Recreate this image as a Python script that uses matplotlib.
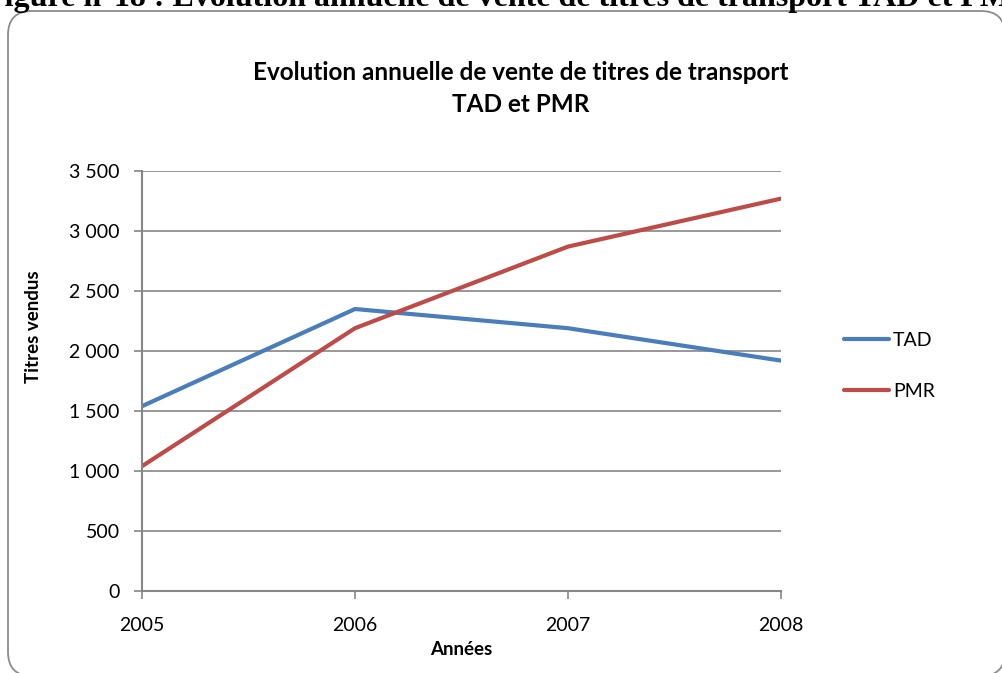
import matplotlib
matplotlib.use("Agg")
import matplotlib.pyplot as plt
from matplotlib.patches import FancyBboxPatch
from matplotlib.transforms import IdentityTransform
from matplotlib.ticker import FuncFormatter

years = [2005, 2006, 2007, 2008]
tad = [1540, 2350, 2190, 1920]
pmr = [1040, 2190, 2870, 3270]
yticks = [0, 500, 1000, 1500, 2000, 2500, 3000, 3500]

plt.rcParams['font.family'] = ['Lato', 'DejaVu Sans']

W, H = 1003, 673
fig = plt.figure(figsize=(W / 100, H / 100), dpi=100)

# rounded chart frame (pixel coordinates, origin bottom-left)
frame = FancyBboxPatch((8, -3), 997, 665,
                       boxstyle="round,pad=0,rounding_size=24",
                       transform=IdentityTransform(), facecolor='white',
                       edgecolor='#8c8c8c', linewidth=1.3, zorder=-5)
fig.add_artist(frame)

# cropped caption at the top
fig.text(-15 / W, 1 - 6 / H,
         "Figure n°18 : Evolution annuelle de vente de titres de transport TAD et PMR",
         family=['Liberation Serif'], fontsize=23, fontweight='bold',
         ha='left', va='baseline', color='black')

ax = fig.add_axes([142 / W, 1 - 591 / H, (781 - 142) / W, (591 - 171) / H])
grid_c = '#868686'
ax.plot(years, tad, color='#4A7EBB', lw=3, label='TAD', solid_capstyle='round')
ax.plot(years, pmr, color='#BE4B48', lw=3, label='PMR', solid_capstyle='round')

ax.set_xlim(2005, 2008)
ax.set_ylim(0, 3500)
ax.set_xticks(years)
ax.set_yticks(yticks)
ax.yaxis.set_major_formatter(FuncFormatter(lambda v, p: f"{int(v):,}".replace(",", " ")))
ax.grid(axis='y', color=grid_c, lw=1.2)
ax.set_axisbelow(True)
for s in ['top', 'right']:
    ax.spines[s].set_visible(False)
for s in ['left', 'bottom']:
    ax.spines[s].set_color(grid_c)
    ax.spines[s].set_linewidth(1.5)
ax.tick_params(axis='both', colors=grid_c, length=6, width=1.2, labelsize=14,
               labelcolor='black')
ax.tick_params(axis='y', pad=10)
ax.tick_params(axis='x', pad=13)
ax.patch.set_alpha(0)

ax.set_xlabel("Années", fontsize=13.5, fontweight='bold', labelpad=5)
ax.set_ylabel("Titres vendus", fontsize=13.5, fontweight='bold')
ax.yaxis.set_label_coords((42 - 142) / (781 - 142), (591 - 327) / (591 - 171))

fig.text(521 / W, 1 - 73 / H, "Evolution annuelle de vente de titres de transport",
         ha='center', va='center', fontsize=17.5, fontweight='bold')
fig.text(521 / W, 1 - 105 / H, "TAD et PMR",
         ha='center', va='center', fontsize=17.5, fontweight='bold')

leg = ax.legend(loc='center left', bbox_to_anchor=(827 / W, 1 - 366 / H),
                bbox_transform=fig.transFigure, frameon=False, fontsize=14,
                handlelength=2.3, handletextpad=0.2, labelspacing=1.75)

fig.savefig("out.png", dpi=100)
